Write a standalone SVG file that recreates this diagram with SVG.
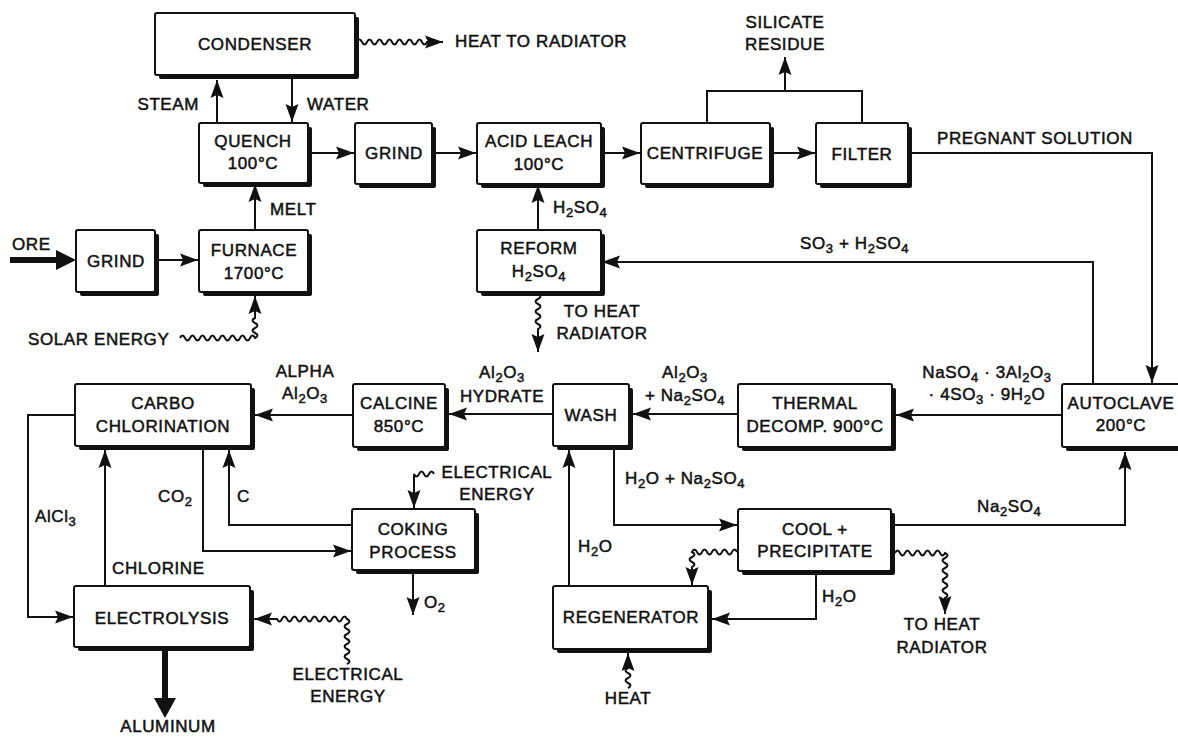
<svg xmlns="http://www.w3.org/2000/svg" width="1178" height="737" viewBox="0 0 1178 737">
<style>
.sh{fill:#111}
.box{fill:#fff;stroke:#111;stroke-width:2}
.t{font-family:"Liberation Sans",Arial,sans-serif;font-size:17px;fill:#111;stroke:#111;stroke-width:0.5;letter-spacing:0.6px}
.c{text-anchor:middle}
.e{text-anchor:end}
.s{font-size:13px}
.ln{fill:none;stroke:#111;stroke-width:2}
.a{marker-end:url(#ah)}
</style>
<defs>
<marker id="ah" markerUnits="userSpaceOnUse" markerWidth="19" markerHeight="14" refX="18" refY="7" orient="auto"><path d="M0,0.5 L18,7 L0,13.5 L3,7 z" fill="#111"/></marker>
</defs>
<rect width="1178" height="737" fill="#fff"/>

<g id="condenser"><rect class="sh" x="159" y="17" width="200" height="62" rx="2"/><rect class="box" x="155" y="13" width="200" height="62" rx="2"/><text class="t c" x="255" y="50">CONDENSER</text></g>
<g id="quench"><rect class="sh" x="203" y="127" width="109" height="60" rx="2"/><rect class="box" x="199" y="123" width="109" height="60" rx="2"/><text class="t c" x="253" y="147">QUENCH</text><text class="t c" x="253" y="169">100°C</text></g>
<g id="grind2"><rect class="sh" x="359" y="127" width="77" height="61" rx="2"/><rect class="box" x="355" y="123" width="77" height="61" rx="2"/><text class="t c" x="394" y="159">GRIND</text></g>
<g id="acidleach"><rect class="sh" x="481" y="127" width="124" height="61" rx="2"/><rect class="box" x="477" y="123" width="124" height="61" rx="2"/><text class="t c" x="539" y="147">ACID LEACH</text><text class="t c" x="539" y="170">100°C</text></g>
<g id="centrifuge"><rect class="sh" x="645" y="127" width="129" height="61" rx="2"/><rect class="box" x="641" y="123" width="129" height="61" rx="2"/><text class="t c" x="705" y="159">CENTRIFUGE</text></g>
<g id="filter"><rect class="sh" x="820" y="127" width="92" height="61" rx="2"/><rect class="box" x="816" y="123" width="92" height="61" rx="2"/><text class="t c" x="862" y="160">FILTER</text></g>
<g id="grind1"><rect class="sh" x="80" y="234" width="79" height="62" rx="2"/><rect class="box" x="76" y="230" width="79" height="62" rx="2"/><text class="t c" x="116" y="267">GRIND</text></g>
<g id="furnace"><rect class="sh" x="203" y="234" width="109" height="62" rx="2"/><rect class="box" x="199" y="230" width="109" height="62" rx="2"/><text class="t c" x="254" y="256">FURNACE</text><text class="t c" x="254" y="279">1700°C</text></g>
<g id="reform"><rect class="sh" x="481" y="234" width="124" height="62" rx="2"/><rect class="box" x="477" y="230" width="124" height="62" rx="2"/><text class="t c" x="539" y="254">REFORM</text><text class="t c" x="539" y="277">H<tspan class="s" dy="4">2</tspan><tspan dy="-4">SO</tspan><tspan class="s" dy="4">4</tspan></text></g>
<g id="carbo"><rect class="sh" x="79" y="388" width="176" height="62" rx="2"/><rect class="box" x="75" y="384" width="176" height="62" rx="2"/><text class="t c" x="163" y="409">CARBO</text><text class="t c" x="163" y="432">CHLORINATION</text></g>
<g id="calcine"><rect class="sh" x="357" y="388" width="92" height="63" rx="2"/><rect class="box" x="353" y="384" width="92" height="63" rx="2"/><text class="t c" x="399" y="409">CALCINE</text><text class="t c" x="399" y="432">850°C</text></g>
<g id="wash"><rect class="sh" x="557" y="388" width="76" height="62" rx="2"/><rect class="box" x="553" y="384" width="76" height="62" rx="2"/><text class="t c" x="591" y="421">WASH</text></g>
<g id="thermal"><rect class="sh" x="742" y="388" width="154" height="63" rx="2"/><rect class="box" x="738" y="384" width="154" height="63" rx="2"/><text class="t c" x="815" y="409">THERMAL</text><text class="t c" x="815" y="432">DECOMP. 900°C</text></g>
<g id="autoclave"><rect class="sh" x="1066" y="388" width="130" height="63" rx="2"/><rect class="box" x="1062" y="384" width="130" height="63" rx="2"/><text class="t c" x="1121" y="409">AUTOCLAVE</text><text class="t c" x="1121" y="431">200°C</text></g>
<g id="coking"><rect class="sh" x="356" y="513" width="123" height="61" rx="2"/><rect class="box" x="352" y="509" width="123" height="61" rx="2"/><text class="t c" x="413" y="535">COKING</text><text class="t c" x="413" y="558">PROCESS</text></g>
<g id="cool"><rect class="sh" x="742" y="513" width="153" height="62" rx="2"/><rect class="box" x="738" y="509" width="153" height="62" rx="2"/><text class="t c" x="815" y="535">COOL +</text><text class="t c" x="815" y="557">PRECIPITATE</text></g>
<g id="electrolysis"><rect class="sh" x="78" y="590" width="176" height="61" rx="2"/><rect class="box" x="74" y="586" width="176" height="61" rx="2"/><text class="t c" x="162" y="624">ELECTROLYSIS</text></g>
<g id="regenerator"><rect class="sh" x="557" y="590" width="155" height="63" rx="2"/><rect class="box" x="553" y="586" width="155" height="63" rx="2"/><text class="t c" x="631" y="623">REGENERATOR</text></g>

<g id="connectors">
<path class="ln a" d="M217 123 V80"/>
<path class="ln a" d="M292 79 V122"/>
<path class="ln a" d="M312 153 H354"/>
<path class="ln a" d="M436 153 H476"/>
<path class="ln a" d="M605 153 H640"/>
<path class="ln a" d="M774 153 H815"/>
<path class="ln" d="M707 123 V91 H862 V123"/>
<path class="ln a" d="M785 91 V57"/>
<path class="ln a" d="M912 153 H1152 V383"/>
<path class="ln a" d="M357 42 q2.5 -5 5 0 t5 0 t5 0 t5 0 t5 0 t5 0 t5 0 t5 0 t5 0 t5 0 t5 0 t5 0 t5 0 t5 0 l16 0"/>
<path class="ln a" d="M159 260 H198"/>
<path fill="none" stroke="#111" stroke-width="6" d="M10 260 H60"/>
<path fill="#111" d="M56 250 L76 260 L56 270 z"/>
<path class="ln a" d="M255 230 V184"/>
<path class="ln a" d="M180 338 q2.5 -5 5 0 t5 0 t5 0 t5 0 t5 0 t5 0 t5 0 t5 0 t5 0 t5 0 t5 0 t5 0 t5 0 t5 0 t5 0 q5 -2.5 0 -5 t0 -5 t0 -5 t0 -5 l0 -22"/>
<path class="ln a" d="M538 230 V185"/>
<path class="ln a" d="M1093 384 V262 H602"/>
<path class="ln a" d="M538 294 q5 2.5 0 5 t0 5 t0 5 t0 5 t0 5 t0 5 t0 5 l0 23"/>
<path class="ln a" d="M1062 415 H896"/>
<path class="ln a" d="M738 414 H633"/>
<path class="ln a" d="M553 414 H449"/>
<path class="ln a" d="M353 415 H255"/>
<path class="ln a" d="M75 415 H28 V617 H73"/>
<path class="ln a" d="M105 586 V450"/>
<path class="ln a" d="M203 450 V551 H351"/>
<path class="ln a" d="M352 525 H229 V450"/>
<path class="ln a" d="M434 474 q-2.5 -5 -5 0 t-5 0 t-5 0 t-5 0 l0 34"/>
<path class="ln a" d="M413 574 V615"/>
<path class="ln a" d="M347 664 q5 -2.5 0 -5 t0 -5 t0 -5 t0 -5 t0 -5 t0 -5 t0 -5 t0 -5 t0 -5 q-2.5 -5 -5 0 t-5 0 t-5 0 t-5 0 t-5 0 t-5 0 t-5 0 t-5 0 t-5 0 t-5 0 t-5 0 t-5 0 t-5 0 t-5 0 l-23 0"/>
<path fill="none" stroke="#111" stroke-width="6" d="M165 651 V702"/>
<path fill="#111" d="M154 698 L165 718 L176 698 z"/>
<path class="ln a" d="M614 450 V525 H737"/>
<path class="ln a" d="M569 586 V450"/>
<path class="ln a" d="M816 575 V619 H712"/>
<path class="ln a" d="M737 552 q-2.5 -5 -5 0 t-5 0 t-5 0 t-5 0 t-5 0 t-5 0 t-5 0 t-5 0 t-5 0 q5 2.5 0 5 t0 5 t0 5 l0 18"/>
<path class="ln a" d="M895 553 q2.5 -5 5 0 t5 0 t5 0 t5 0 t5 0 t5 0 t5 0 t5 0 t5 0 t5 0 q5 2.5 0 5 t0 5 t0 5 t0 5 t0 5 t0 5 t0 5 t0 5 t0 5 l0 16"/>
<path class="ln a" d="M895 525 H1125 V452"/>
<path class="ln a" d="M628 688 q5 -2.5 0 -5 t0 -5 t0 -5 t0 -5 l0 -15"/>
</g>

<g id="labels">
<text class="t e" x="199" y="110">STEAM</text>
<text class="t" x="307" y="110">WATER</text>
<text class="t" x="270" y="215">MELT</text>
<text class="t" x="455" y="47">HEAT TO RADIATOR</text>
<text class="t c" x="785" y="28">SILICATE</text>
<text class="t c" x="785" y="50">RESIDUE</text>
<text class="t" x="937" y="144">PREGNANT SOLUTION</text>
<text class="t" x="553" y="213">H<tspan class="s" dy="4">2</tspan><tspan dy="-4">SO</tspan><tspan class="s" dy="4">4</tspan></text>
<text class="t" x="12" y="250">ORE</text>
<text class="t" x="28" y="345">SOLAR ENERGY</text>
<text class="t" x="800" y="249">SO<tspan class="s" dy="4">3</tspan><tspan dy="-4"> + H</tspan><tspan class="s" dy="4">2</tspan><tspan dy="-4">SO</tspan><tspan class="s" dy="4">4</tspan></text>
<text class="t c" x="602" y="317">TO HEAT</text>
<text class="t c" x="602" y="339">RADIATOR</text>
<text class="t c" x="305" y="377">ALPHA</text>
<text class="t c" x="305" y="399">Al<tspan class="s" dy="4">2</tspan><tspan dy="-4">O</tspan><tspan class="s" dy="4">3</tspan></text>
<text class="t c" x="502" y="378">Al<tspan class="s" dy="4">2</tspan><tspan dy="-4">O</tspan><tspan class="s" dy="4">3</tspan></text>
<text class="t c" x="502" y="402">HYDRATE</text>
<text class="t c" x="685" y="378">Al<tspan class="s" dy="4">2</tspan><tspan dy="-4">O</tspan><tspan class="s" dy="4">3</tspan></text>
<text class="t c" x="685" y="401">+ Na<tspan class="s" dy="4">2</tspan><tspan dy="-4">SO</tspan><tspan class="s" dy="4">4</tspan></text>
<text class="t c" x="987" y="378">NaSO<tspan class="s" dy="4">4</tspan><tspan dy="-4"> · 3Al</tspan><tspan class="s" dy="4">2</tspan><tspan dy="-4">O</tspan><tspan class="s" dy="4">3</tspan></text>
<text class="t c" x="987" y="400">· 4SO<tspan class="s" dy="4">3</tspan><tspan dy="-4"> · 9H</tspan><tspan class="s" dy="4">2</tspan><tspan dy="-4">O</tspan></text>
<text class="t c" x="497" y="478">ELECTRICAL</text>
<text class="t c" x="497" y="500">ENERGY</text>
<text class="t" x="625" y="484">H<tspan class="s" dy="4">2</tspan><tspan dy="-4">O + Na</tspan><tspan class="s" dy="4">2</tspan><tspan dy="-4">SO</tspan><tspan class="s" dy="4">4</tspan></text>
<text class="t" x="158" y="502">CO<tspan class="s" dy="4">2</tspan></text>
<text class="t" x="237" y="502">C</text>
<text class="t" x="35" y="522">AlCl<tspan class="s" dy="4">3</tspan></text>
<text class="t" x="112" y="574">CHLORINE</text>
<text class="t" x="424" y="608">O<tspan class="s" dy="4">2</tspan></text>
<text class="t" x="578" y="552">H<tspan class="s" dy="4">2</tspan><tspan dy="-4">O</tspan></text>
<text class="t" x="977" y="512">Na<tspan class="s" dy="4">2</tspan><tspan dy="-4">SO</tspan><tspan class="s" dy="4">4</tspan></text>
<text class="t" x="822" y="602">H<tspan class="s" dy="4">2</tspan><tspan dy="-4">O</tspan></text>
<text class="t c" x="942" y="630">TO HEAT</text>
<text class="t c" x="942" y="653">RADIATOR</text>
<text class="t c" x="628" y="704">HEAT</text>
<text class="t c" x="348" y="680">ELECTRICAL</text>
<text class="t c" x="348" y="702">ENERGY</text>
<text class="t c" x="168" y="732">ALUMINUM</text>
</g>
</svg>
